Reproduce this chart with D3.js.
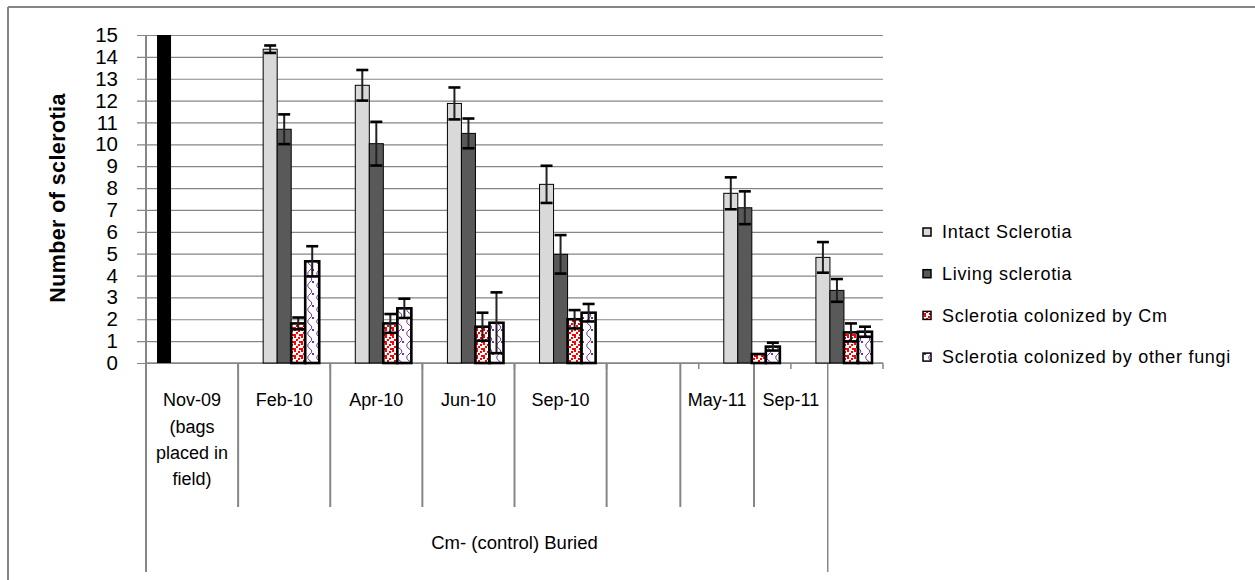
<!DOCTYPE html>
<html>
<head>
<meta charset="utf-8">
<script src="https://cdn.jsdelivr.net/npm/d3@7/dist/d3.min.js"></script>
<style>
  html, body { margin: 0; padding: 0; background: #fff; }
  svg { display: block; }
  text { font-family: "Liberation Sans", Arial, sans-serif; fill: #000; }
</style>
</head>
<body>
<svg id="chart" width="1255" height="580"></svg>
<script>
// ---------- data ----------
const categories = [
  ["Nov-09", "(bags", "placed in", "field)"],
  ["Feb-10"], ["Apr-10"], ["Jun-10"], ["Sep-10"], [""], ["May-11"], ["Sep-11"]
];
const groupLabel = "Cm- (control) Buried";
const seriesNames = ["Initial", "Intact Sclerotia", "Living sclerotia",
                     "Sclerotia colonized by Cm", "Sclerotia colonized by other fungi"];
const legendSeries = [1, 2, 3, 4];
const initialValues = [15, null, null, null, null, null, null, null];
const intactValues  = [null, 14.35, 12.70, 11.87, 8.17, null, 7.76, 4.83];
const intactErr     = [null, 0.17, 0.70, 0.73, 0.85, null, 0.73, 0.70];
const livingValues  = [null, 10.69, 10.03, 10.50, 4.97, null, 7.10, 3.32];
const livingErr     = [null, 0.68, 1.00, 0.68, 0.88, null, 0.75, 0.52];
const cmValues      = [null, 1.81, 1.81, 1.66, 2.00, null, 0.41, 1.40];
const cmErr         = [null, 0.27, 0.43, 0.64, 0.42, null, 0, 0.41];
const otherValues   = [null, 4.65, 2.50, 1.84, 2.30, null, 0.75, 1.43];
const otherErr      = [null, 0.69, 0.44, 1.39, 0.40, null, 0.18, 0.23];
const yTicks = d3.range(0, 16);
const yTitle = "Number of sclerotia";

const seriesValues = [initialValues, intactValues, livingValues, cmValues, otherValues];
const seriesErrors = [null, intactErr, livingErr, cmErr, otherErr];

// ---------- layout ----------
const plot = { left: 146, right: 883, top: 35, bottom: 363 };
const tableBottom = 507, frameBottom = 572;
const narrowCellRatio = 0.8;   // last three label cells are drawn narrower
const gridColor = "#868686";

const svg = d3.select("#chart");
const defs = svg.append("defs");

// patterns
const pCm = defs.append("pattern").attr("id", "pCm")
  .attr("patternUnits", "userSpaceOnUse").attr("width", 7).attr("height", 7);
pCm.append("rect").attr("width", 7).attr("height", 7).attr("fill", "#fff");
[[0,0],[4,1],[2,3],[5,5],[0,5]].forEach(([a,b]) =>
  pCm.append("rect").attr("x", a).attr("y", b).attr("width", 2).attr("height", 2).attr("fill", "#ff0000"));

const pOt = defs.append("pattern").attr("id", "pOther")
  .attr("patternUnits", "userSpaceOnUse").attr("width", 9).attr("height", 12);
pOt.append("rect").attr("width", 9).attr("height", 12).attr("fill", "#fff");
pOt.append("path").attr("d", "M3,0 Q8,3 4,6 Q0,9 3,12")
  .attr("fill", "none").attr("stroke", "#7030a0").attr("stroke-width", 1);
pOt.append("rect").attr("x", 6).attr("y", 5).attr("width", 2).attr("height", 2).attr("fill", "#7030a0");

const fills = ["#000000", "#d9d9d9", "#595959", "url(#pCm)", "url(#pOther)"];
const strokeW = [0, 1, 1, 2.6, 2.6];

// chart frame (top & left only)
svg.append("line").attr("x1", 8).attr("x2", 1255).attr("y1", 7).attr("y2", 7)
  .attr("stroke", gridColor).attr("stroke-width", 2);
svg.append("line").attr("x1", 8).attr("x2", 8).attr("y1", 7).attr("y2", 580)
  .attr("stroke", gridColor).attr("stroke-width", 2);

// scales
const catIdx = categories.map((_, i) => i);
const x = d3.scaleBand().domain(catIdx).range([plot.left, plot.right]).paddingInner(0).paddingOuter(0);
const x1 = d3.scaleBand().domain(d3.range(seriesNames.length))
  .range([0, x.bandwidth()]).paddingInner(0).paddingOuter(0.786);
const y = d3.scaleLinear().domain([0, 15]).range([plot.bottom, plot.top]);

// gridlines + y axis
const yAxis = d3.axisLeft(y).tickValues(yTicks).tickSize(-(plot.right - plot.left)).tickSizeOuter(0).tickPadding(0);
const gy = svg.append("g").attr("transform", `translate(${plot.left},0)`).call(yAxis);
gy.select(".domain").remove();
gy.selectAll(".tick line").attr("stroke", gridColor).attr("stroke-width", 1.2).attr("x1", -9);
gy.selectAll(".tick text").attr("x", -28).attr("font-size", 20.5)
  .attr("font-family", "'Liberation Sans', Arial, sans-serif").attr("fill", "#000");

// x axis line + ticks at band edges
svg.append("line").attr("x1", plot.left).attr("x2", plot.right)
  .attr("y1", plot.bottom).attr("y2", plot.bottom).attr("stroke", gridColor).attr("stroke-width", 1.5);
catIdx.slice(1).concat([null]).forEach(i => {
  const xx = i === null ? plot.right : x(i);
  svg.append("line").attr("x1", xx).attr("x2", xx).attr("y1", plot.bottom).attr("y2", plot.bottom + 6)
    .attr("stroke", gridColor).attr("stroke-width", 1.5);
});

// label table
const cellW = i => i >= 5 ? x.bandwidth() * narrowCellRatio : x.bandwidth();
const edges = [plot.left];
catIdx.forEach(i => edges.push(edges[edges.length - 1] + cellW(i)));
svg.append("line").attr("x1", plot.left).attr("x2", plot.left).attr("y1", plot.top).attr("y2", frameBottom)
  .attr("stroke", gridColor).attr("stroke-width", 2);
edges.slice(1, -1).forEach(e =>
  svg.append("line").attr("x1", e).attr("x2", e).attr("y1", plot.bottom).attr("y2", tableBottom)
    .attr("stroke", gridColor).attr("stroke-width", 2));
const lastEdge = edges[edges.length - 1];
svg.append("line").attr("x1", lastEdge).attr("x2", lastEdge).attr("y1", plot.bottom).attr("y2", frameBottom)
  .attr("stroke", gridColor).attr("stroke-width", 1.5);

categories.forEach((lines, i) => {
  const cx = (edges[i] + edges[i + 1]) / 2;
  lines.forEach((ln, k) => {
    svg.append("text").attr("x", cx).attr("y", 400 + k * 26.3).attr("dy", "0.35em")
      .attr("text-anchor", "middle").attr("font-size", 18).text(ln);
  });
});
svg.append("text").attr("x", (plot.left + plot.right) / 2).attr("y", 543).attr("dy", "0.35em")
  .attr("text-anchor", "middle").attr("font-size", 18.5).text(groupLabel);

// y title
svg.append("text").attr("transform", `translate(57,198) rotate(-90)`).attr("dy", "0.35em")
  .attr("text-anchor", "middle").attr("font-size", 21.5).attr("font-weight", "bold")
  .attr("letter-spacing", 0.4).text(yTitle);

// bars
const barData = [];
seriesValues.forEach((vals, s) => vals.forEach((v, i) => {
  if (v !== null) barData.push({ s, i, v, e: seriesErrors[s] ? seriesErrors[s][i] : null });
}));

svg.append("g").selectAll("rect").data(barData).join("rect")
  .attr("x", d => x(d.i) + x1(d.s))
  .attr("y", d => y(d.v))
  .attr("width", x1.bandwidth())
  .attr("height", d => y(0) - y(d.v))
  .attr("fill", d => fills[d.s])
  .attr("stroke", d => strokeW[d.s] ? "#000" : "none")
  .attr("stroke-width", d => strokeW[d.s]);

// error bars
const eb = svg.append("g").selectAll("g").data(barData.filter(d => d.e)).join("g");
const cx = d => x(d.i) + x1(d.s) + x1.bandwidth() / 2;
eb.append("line").attr("x1", cx).attr("x2", cx)
  .attr("y1", d => y(d.v - d.e)).attr("y2", d => y(d.v + d.e))
  .attr("stroke", "#222").attr("stroke-width", 2);
[-1, 1].forEach(sg => eb.append("line")
  .attr("x1", d => cx(d) - 6).attr("x2", d => cx(d) + 6)
  .attr("y1", d => y(d.v + sg * d.e)).attr("y2", d => y(d.v + sg * d.e))
  .attr("stroke", "#000").attr("stroke-width", 2.6));

// legend
const lg = svg.append("g");
legendSeries.forEach((s, k) => {
  const yy = 232 + k * 41.7;
  lg.append("rect").attr("x", 923).attr("y", yy - 4).attr("width", 8).attr("height", 8)
    .attr("fill", fills[s]).attr("stroke", "#000").attr("stroke-width", 1.5);
  lg.append("text").attr("x", 942).attr("y", yy).attr("dy", "0.35em")
    .attr("font-size", 18).attr("letter-spacing", 0.7).text(seriesNames[s]);
});
</script>
</body>
</html>
